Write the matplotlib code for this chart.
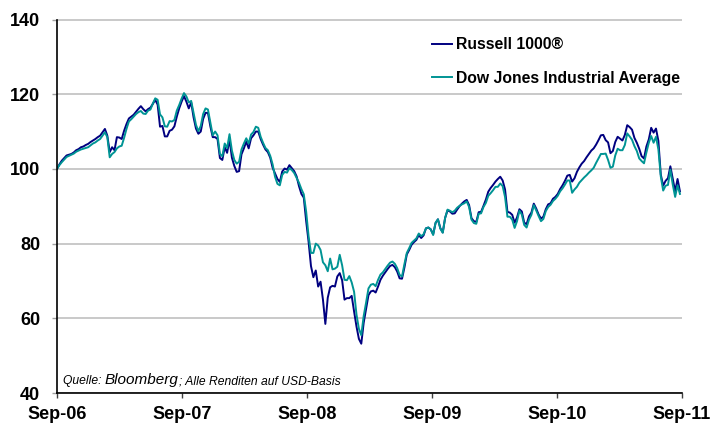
import numpy as np
import pandas as pd
import matplotlib
matplotlib.use('Agg')
import matplotlib.pyplot as plt
import matplotlib.dates as mdates

plt.rcParams['font.family'] = ['Liberation Sans', 'DejaVu Sans']

# ---------------- data (weekly, indexed to 100) ----------------
start_date = '2006-09-01'

russell_1000 = [
    100.0, 101.2, 102.2, 102.9, 103.6, 103.8, 104.0, 104.4, 105.0, 105.3,
    105.8, 106.0, 106.4, 106.7, 107.2, 107.6, 108.0, 108.5, 108.9, 109.8,
    110.7, 108.9, 104.5, 105.8, 105.0, 108.5, 108.4, 108.0, 110.2, 112.0,
    113.5, 114.0, 114.5, 115.3, 116.1, 116.8, 116.0, 115.4, 116.0, 116.4,
    117.4, 118.5, 117.2, 111.3, 111.5, 108.7, 108.7, 110.2, 110.5, 111.4,
    114.0, 116.2, 118.0, 119.5, 118.0, 116.2, 117.8, 113.8, 110.8, 109.4,
    110.0, 113.4, 115.0, 115.0, 111.4, 108.5, 108.5, 108.0, 102.9, 102.4,
    105.8, 104.3, 107.9, 103.0, 100.8, 99.2, 99.4, 103.9, 105.5, 107.3,
    105.5, 108.2, 109.0, 110.0, 110.0, 108.0, 106.5, 105.2, 104.5, 103.0,
    100.3, 98.8, 97.3, 96.5, 99.3, 100.1, 99.8, 101.0, 100.2, 99.4,
    98.0, 95.4, 93.3, 92.3, 86.0, 80.5, 74.0, 71.0, 72.8, 68.5,
    69.8, 65.0, 58.5, 65.5, 68.3, 68.7, 68.5, 71.2, 72.1, 70.2,
    65.0, 65.4, 65.4, 66.0, 61.8, 57.8, 54.5, 53.2, 58.8, 62.5,
    66.2, 67.2, 67.4, 66.9, 68.5, 70.3, 71.4, 72.3, 73.2, 74.0,
    74.3, 73.7, 72.5, 70.7, 70.6, 73.6, 77.1, 78.3, 79.7, 80.4,
    81.0, 82.3, 81.5, 82.2, 84.1, 84.3, 83.8, 82.5, 85.5, 86.5,
    84.1, 83.0, 86.9, 88.9, 88.6, 88.0, 88.1, 89.1, 90.0, 90.7,
    91.3, 91.7, 90.3, 86.8, 86.0, 85.8, 88.4, 88.5, 90.1, 91.8,
    93.9, 94.9, 95.7, 96.6, 97.3, 97.9, 96.9, 94.5, 88.5, 88.3,
    87.7, 85.6, 87.0, 89.2, 88.6, 85.6, 85.2, 87.3, 88.3, 90.7,
    89.4, 87.8, 86.7, 87.2, 89.2, 90.5, 90.8, 92.0, 92.5, 93.3,
    94.6, 95.6, 96.8, 98.2, 98.4, 96.6, 97.5, 99.2, 100.4, 101.4,
    102.1, 103.1, 104.0, 104.9, 105.5, 106.5, 107.7, 109.0, 109.1, 107.7,
    107.1, 104.2, 104.8, 107.2, 108.6, 108.1, 107.6, 109.1, 111.7, 111.2,
    110.5, 108.3, 107.0, 105.4, 103.4, 102.8, 106.0, 107.9, 111.0, 109.7,
    110.8, 107.5, 98.5, 95.5, 96.8, 97.5, 100.7, 97.3, 94.0, 97.3, 94.0,
]

dow_jones = [
    100.0, 101.0, 101.8, 102.5, 103.2, 103.5, 103.8, 104.1, 104.6, 104.9,
    105.2, 105.4, 105.6, 105.8, 106.3, 106.8, 107.1, 107.6, 108.0, 108.9,
    109.8, 108.5, 103.1, 104.0, 104.5, 105.5, 106.0, 106.2, 108.3, 110.7,
    112.7, 113.3, 114.0, 114.7, 115.2, 115.5, 114.8, 114.7, 115.6, 115.9,
    117.5, 118.9, 118.5, 114.6, 113.8, 111.4, 111.3, 112.8, 112.7, 113.1,
    115.6, 117.1, 118.8, 120.3, 119.4, 117.8, 118.2, 115.0, 111.8, 110.1,
    111.5, 114.7, 116.2, 115.9, 112.5, 109.0, 110.0, 109.0, 104.0, 103.4,
    106.8, 105.6, 109.3, 104.9, 102.4, 101.4, 101.9, 105.2, 106.8, 108.2,
    106.8, 109.2, 109.9, 111.3, 111.0, 108.6, 107.0, 105.6, 105.0, 103.5,
    101.2, 97.9, 96.0, 95.6, 98.4, 99.2, 99.0, 100.2, 99.7, 98.9,
    97.6, 96.3, 94.6, 93.2, 88.5, 82.0, 77.5, 77.5, 80.0, 79.5,
    78.3, 75.0, 74.2, 72.6, 76.0, 73.1, 73.3, 73.8, 77.0, 74.2,
    70.3, 70.2, 71.3, 69.6, 67.1, 61.0, 57.2, 55.5, 60.6, 64.2,
    68.0, 69.0, 69.2, 68.6, 70.3, 71.7, 72.3, 73.2, 74.1, 74.9,
    75.2, 74.6, 73.4, 71.6, 71.2, 74.5, 77.5, 78.8, 80.2, 80.8,
    81.4, 82.7, 82.0, 82.5, 84.1, 84.3, 83.8, 82.3, 85.6, 86.5,
    84.0, 82.9, 86.9, 89.1, 88.8, 88.4, 88.8, 89.6, 90.1, 90.5,
    90.8, 91.3, 89.8, 86.4, 85.5, 85.3, 88.0, 88.1, 89.8, 90.9,
    92.8, 93.5, 94.3, 95.2, 95.2, 96.1, 95.4, 92.5, 87.2, 87.2,
    86.4, 84.2, 86.0, 88.8, 87.8, 85.0, 84.3, 86.4, 87.7, 90.3,
    88.9, 87.4, 86.0, 86.6, 88.7, 89.8, 90.4, 91.4, 92.0, 92.8,
    94.0, 94.8, 95.8, 96.9, 96.9, 93.6, 94.5, 95.2, 96.3, 97.0,
    97.7, 98.3, 99.0, 99.6, 100.3, 101.6, 102.8, 104.0, 104.0, 104.1,
    102.4, 100.3, 100.6, 103.6, 105.4, 105.0, 105.0, 106.4, 109.5, 108.7,
    107.8, 106.1, 104.8, 102.8, 102.1, 101.5, 104.4, 107.0, 108.8, 107.0,
    108.6, 105.2, 98.0, 94.2, 95.5, 95.7, 99.8, 95.8, 92.5, 95.6, 93.3,
]

series_labels = ['Russell 1000®', 'Dow Jones Industrial Average']
y_ticks = [40, 60, 80, 100, 120, 140]
x_tick_dates = ['2006-09-01', '2007-09-01', '2008-09-01',
                '2009-09-01', '2010-09-01', '2011-09-01']
source_parts = ['Quelle: ', 'Bloomberg', '; Alle Renditen auf USD-Basis']

# ---------------- figure ----------------
W, H = 711, 423
dates = pd.date_range(start_date, periods=len(russell_1000), freq='7D')

fig = plt.figure(figsize=(W / 100, H / 100), dpi=100)
ax = fig.add_axes([57 / W, 1 - 393 / H, (682 - 57) / W, (393 - 19.5) / H])

ax.plot(dates, russell_1000, color='#000080', lw=1.4, label=series_labels[0])
ax.plot(dates, dow_jones, color='#009494', lw=1.4, label=series_labels[1])

ax.set_xlim(pd.Timestamp(x_tick_dates[0]), pd.Timestamp(x_tick_dates[-1]))
ax.set_ylim(y_ticks[0], y_ticks[-1])
ax.set_yticks(y_ticks)
ax.set_xticks(pd.to_datetime(x_tick_dates))
ax.xaxis.set_major_formatter(mdates.DateFormatter('%b-%y'))

ax.grid(axis='y', color='#c0c0c0', lw=1.2)
ax.grid(axis='x', visible=False)
ax.set_axisbelow(True)
for s in ['top', 'right']:
    ax.spines[s].set_visible(False)
for s in ['left', 'bottom']:
    ax.spines[s].set_linewidth(1.2)
    ax.spines[s].set_color('black')

ax.tick_params(axis='y', length=3.6, width=1, color='#a0a0a0', pad=8.5,
               labelsize=13)
ax.tick_params(axis='x', length=3.6, width=1, color='#404040', pad=5.5,
               labelsize=13)
for lbl in ax.get_xticklabels() + ax.get_yticklabels():
    lbl.set_fontweight('bold')

ax.legend(frameon=False, loc='upper left',
          bbox_to_anchor=(432 / W, 1 - 37 / H), bbox_transform=fig.transFigure,
          prop={'weight': 'bold', 'size': 11.3}, handlelength=1.3,
          handletextpad=0.2, labelspacing=1.2, borderpad=0, borderaxespad=0)

# source note, composed of three pieces on one baseline
fig.canvas.draw()
renderer = fig.canvas.get_renderer()
x_px = 63
y_base = 1 - 384 / H
sizes = [8.7, 11, 8.7]
for part, sz in zip(source_parts, sizes):
    t = fig.text(x_px / W, y_base, part, fontsize=sz, style='italic',
                 va='baseline', ha='left')
    bb = t.get_window_extent(renderer=renderer)
    x_px = bb.x1

fig.savefig('out.png', dpi=100)
